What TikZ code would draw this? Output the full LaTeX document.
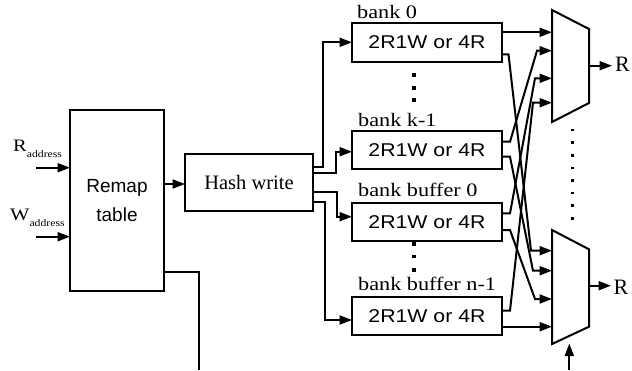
\documentclass[tikz,border=0pt]{standalone}
\usepackage{fontspec}
\setmainfont{Liberation Serif}
\newfontfamily\serifW[FakeStretch=1.17]{Liberation Serif}
\newfontfamily\sansW[FakeStretch=1.15]{Liberation Sans}
\newfontfamily\sansN{Liberation Sans}
\usetikzlibrary{arrows.meta}
\begin{document}
\begin{tikzpicture}[x=1pt,y=-1pt,
  wire/.style={line width=2pt},
  arr/.style={wire,-{Triangle[length=12.5pt,width=9pt]}},
  box/.style={draw,line width=2pt,inner sep=0pt},
  bankbox/.style={box,minimum width=150pt,minimum height=38.5pt,font=\sansW\fontsize{18.5}{20}\selectfont},
  banklbl/.style={anchor=base west,inner sep=0pt,font=\serifW\fontsize{19}{22}\selectfont},
  dotsq/.style={fill=black,minimum size=3.5pt,inner sep=0pt},
  smalldot/.style={fill=black,minimum size=2.6pt,inner sep=0pt},
  muxshape/.style={draw,line width=2pt,line join=miter}]
\useasboundingbox (0,0) rectangle (632,370);

% boxes
\node[box,minimum width=94pt,minimum height=181pt,align=center,font=\sansN\fontsize{19}{28.4}\selectfont] (remap) at (117,200.5) {Remap\\table};
\node[box,minimum width=128pt,minimum height=56.4pt,font=\fontsize{20.5}{24}\selectfont] (hash) at (249,182.5) {Hash write};
\node[bankbox] (b0) at (427,42.5) {2R1W or 4R};
\node[bankbox] (bk) at (427,150) {2R1W or 4R};
\node[bankbox] (bb0) at (427,222.2) {2R1W or 4R};
\node[bankbox] (bbn) at (427,316.2) {2R1W or 4R};

% bank labels
\node[banklbl] (l0) at (357,18.3) {bank 0};
\node[banklbl] (lk) at (358,126.5) {bank k-1};
\node[banklbl] (lb0) at (358,196.5) {bank buffer 0};
\node[banklbl] (lbn) at (358,290.5) {bank buffer n-1};

% input labels
\node[anchor=base west,inner sep=0pt] (rlab) at (13,151.7) {\serifW\fontsize{17.5}{20}\selectfont R\raisebox{-5.5pt}{\fontsize{10}{12}\selectfont address}};
\node[anchor=base west,inner sep=0pt] (wlab) at (10,220) {\serifW\fontsize{17.5}{20}\selectfont W\raisebox{-6.5pt}{\fontsize{10}{12}\selectfont address}};

% muxes
\draw[muxshape] (552,10) -- (589,29) -- (589,103) -- (552,122) -- cycle;
\draw[muxshape] (552,230) -- (589,249.3) -- (589,326.7) -- (552,344) -- cycle;

% coordinates
\coordinate (rin) at (36,167.7);
\coordinate (rinE) at (70,167.7);
\coordinate (win) at (36,236.7);
\coordinate (winE) at (70,236.7);
\coordinate (rmo) at (164,184);
\coordinate (hsi) at (185,184);
\coordinate (rmx) at (164,271.7);
\coordinate (rmb) at (199.3,370);
\coordinate (h1) at (313,166.7);
\coordinate (h2) at (313,173.3);
\coordinate (h3) at (313,192.3);
\coordinate (h4) at (313,201.7);
\coordinate (b0in) at (352,42.3);
\coordinate (bkin) at (352,151.7);
\coordinate (bb0in) at (352,216.7);
\coordinate (bbnin) at (352,320);
\coordinate (b0o1) at (502,32.3);
\coordinate (b0o2) at (502,54.3);
\coordinate (bko1) at (502,141.7);
\coordinate (bko2) at (502,156.7);
\coordinate (bb0o1) at (502,213.3);
\coordinate (bb0o2) at (502,230);
\coordinate (bbno1) at (502,310.7);
\coordinate (bbno2) at (502,326.7);
\coordinate (m1i1) at (552,32.3);
\coordinate (m1i2) at (552,50.7);
\coordinate (m1i3) at (552,78.3);
\coordinate (m1i4) at (552,102.7);
\coordinate (m2i1) at (552,250.7);
\coordinate (m2i2) at (552,270.7);
\coordinate (m2i3) at (552,299);
\coordinate (m2i4) at (552,326.7);
\coordinate (m1o) at (589,65.7);
\coordinate (m1oE) at (612,65.7);
\coordinate (m2o) at (589,285.7);
\coordinate (m2oE) at (611,285.7);
\coordinate (sel) at (569.3,370);
\coordinate (selE) at (569.3,343.5);

% input arrows
\draw[arr] (rin) -- (rinE);
\draw[arr] (win) -- (winE);
\draw[arr] (rmo) -- (hsi);
\draw[wire] (rmx) -| (rmb);

% hash to banks
\draw[arr] (h1) -- ++(9.7,0) |- (b0in);
\draw[arr] (h2) -- ++(23,0) |- (bkin);
\draw[arr] (h3) -- ++(23.7,0) |- (bb0in);
\draw[arr] (h4) -- ++(12,0) |- (bbnin);

% banks to muxes
\draw[arr] (b0o1) -- (m1i1);
\draw[arr] (bko1) -- ++(8,0) -- (537,50.7) -- (m1i2);
\draw[arr] (bb0o1) -- ++(8,0) -- (535,78.3) -- (m1i3);
\draw[arr] (bbno1) -- ++(8,0) -- (533,102.7) -- (m1i4);
\draw[arr] (b0o2) -- ++(6.5,0) -- (531,250.7) -- (m2i1);
\draw[arr] (bko2) -- ++(8,0) -- (533,270.7) -- (m2i2);
\draw[arr] (bb0o2) -- ++(8,0) -- (535,299) -- (m2i3);
\draw[arr] (bbno2) -- (m2i4);

% mux outputs
\draw[arr] (m1o) -- (m1oE);
\draw[arr] (m2o) -- (m2oE);
\draw[arr] (sel) -- (selE);
\node[anchor=base west,inner sep=0pt,font=\fontsize{22}{24}\selectfont] (r1) at (615,71.7) {R};
\node[anchor=base west,inner sep=0pt,font=\fontsize{22}{24}\selectfont] (r2) at (613.3,294) {R};

% dots
\foreach \yy [count=\i] in {75,88,100} \node[dotsq] (da\i) at (414,\yy) {};
\foreach \yy [count=\i] in {244,256.7,270} \node[dotsq] (db\i) at (414,\yy) {};
\foreach \i in {0,...,7} \node[smalldot] (dm\i) at (572.7,130+12.6*\i) {};
\end{tikzpicture}
\end{document}
